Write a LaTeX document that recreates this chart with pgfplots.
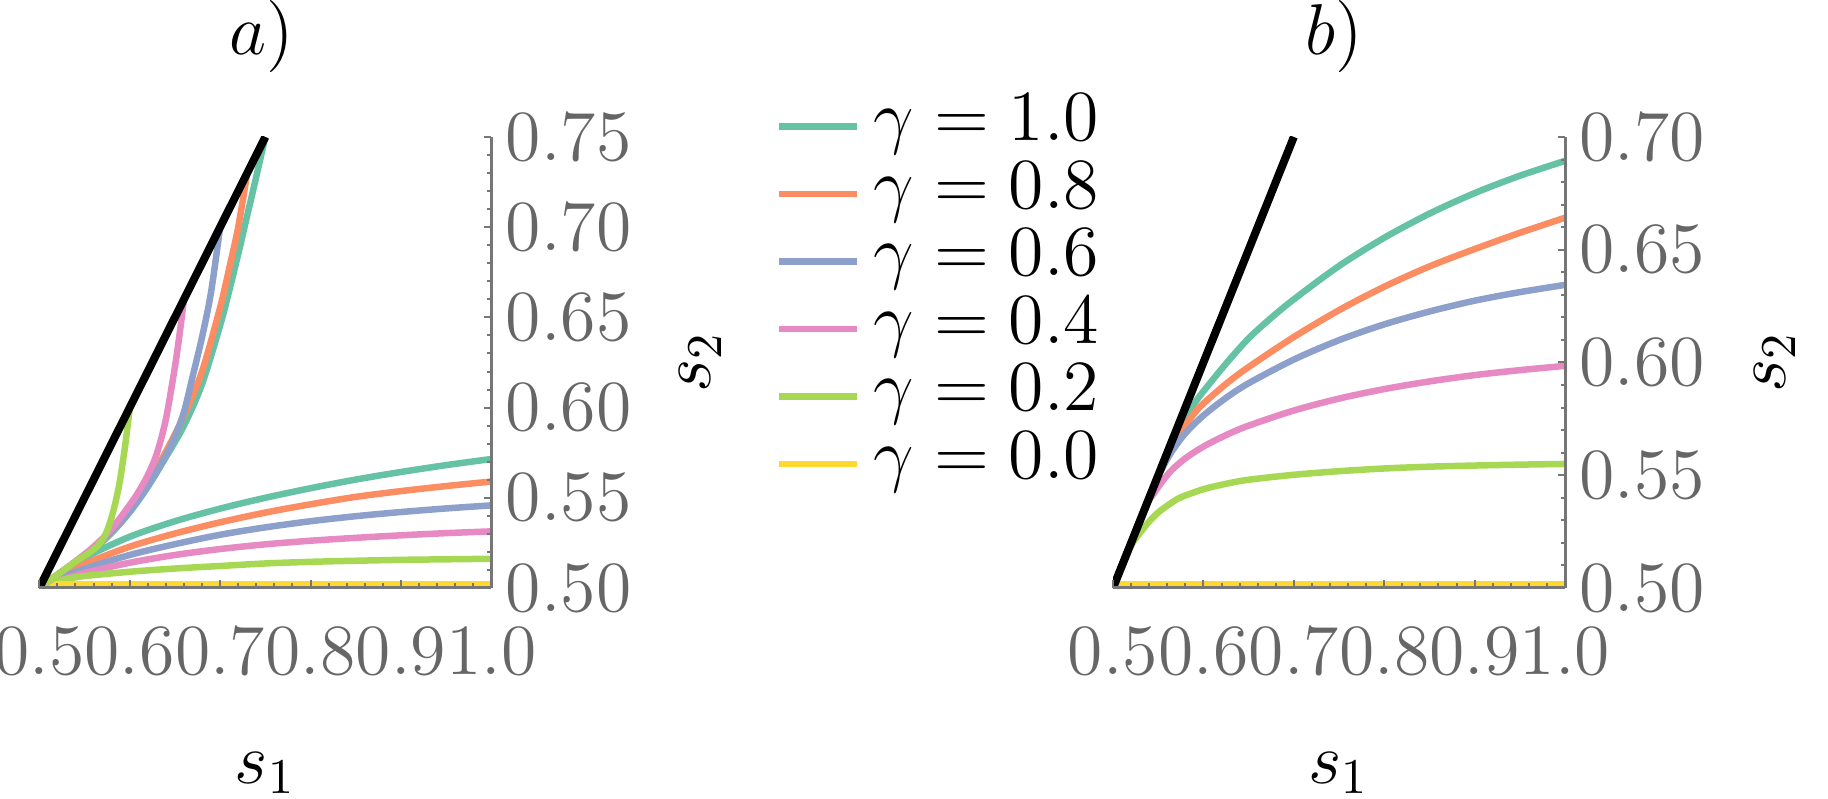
\documentclass[border=0pt]{standalone}
\usepackage{pgfplots}
\pgfplotsset{compat=1.18}
\definecolor{cA}{HTML}{66C2A5}
\definecolor{cB}{HTML}{FC8D62}
\definecolor{cC}{HTML}{8DA0CB}
\definecolor{cD}{HTML}{E78AC3}
\definecolor{cE}{HTML}{A6D854}
\definecolor{cF}{HTML}{FFD92F}
\definecolor{axgray}{RGB}{118,118,118}
\definecolor{lblgray}{RGB}{102,102,102}
\pgfplotsset{
  myax/.style={
    scale only axis, width=90.4pt, height=90.2pt, anchor=south west,
    xmin=0.5, xmax=1.0, ymin=0.5,
    axis x line*=bottom, axis y line*=right,
    axis line style={-, draw=axgray, line width=0.6pt},
    axis on top,
    tick align=inside, major tick length=1.5pt, minor tick length=0.9pt,
    every tick/.style={axgray, line width=0.4pt},
    xtick={0.5,0.6,0.7,0.8,0.9,1.0}, minor x tick num=4, minor y tick num=4,
    ticklabel style={text=lblgray},
    xticklabel style={font=\fontsize{13.5}{16}\selectfont, /pgf/number format/.cd, fixed, fixed zerofill, precision=1, /tikz/.cd, yshift=-4.4pt},
    yticklabel style={font=\fontsize{13.6}{16}\selectfont, /pgf/number format/.cd, fixed, fixed zerofill, precision=2, /tikz/.cd, xshift=-0.6pt},
    title style={anchor=center, yshift=-6pt, font=\fontsize{14.4}{17}\selectfont},
    xlabel style={at={(axis description cs:0.5,-0.41)}, anchor=center, font=\fontsize{14.4}{17}\selectfont},
    ylabel style={anchor=center, font=\fontsize{14.4}{17}\selectfont},
  },
  cl/.style={line width=1.3pt, #1, smooth},
}
\begin{document}
\begin{tikzpicture}
\useasboundingbox (0,0) rectangle (365.6pt,159.8pt);
% ---------------- a) ----------------
\begin{axis}[myax, at={(7.86pt,42.2pt)}, ymax=0.75,
  ytick={0.5,0.55,0.6,0.65,0.7,0.75},
  title={$a)$}, title style={at={(axis description cs:0.493,1.222)}},
  xlabel={$s_1$}, ylabel={$s_2$},
  ylabel style={at={(axis description cs:1.4624,0.501)}},
  legend cell align=left,
  legend image code/.code={\draw[#1, line width=1.3pt] (0pt,0pt) -- (15.6pt,0pt);},
  legend style={at={(axis description cs:1.630,1.0976)}, anchor=north west,
    draw=none, fill=none, inner sep=0pt, outer sep=0pt, row sep=0pt, column sep=2.6pt,
    font=\fontsize{14.4}{17}\selectfont,
    nodes={inner sep=0pt, text height=9.6pt, text depth=3.9pt}},
]
% lower branches
\addplot[cl=cA] coordinates {(0.5,0.5)(0.52,0.5072)(0.55,0.5168)(0.6,0.5284)(0.65,0.537)(0.7,0.544)(0.75,0.55)(0.8,0.5553)(0.85,0.5601)(0.9,0.5643)(0.95,0.5681)(1.0,0.5715)};
\addlegendentry{$\gamma = 1.0$}
\addplot[cl=cB] coordinates {(0.5,0.5)(0.52,0.5058)(0.55,0.5133)(0.6,0.5229)(0.65,0.5302)(0.7,0.5364)(0.75,0.5418)(0.8,0.5464)(0.85,0.5505)(0.9,0.5537)(0.95,0.5565)(1.0,0.559)};
\addlegendentry{$\gamma = 0.8$}
\addplot[cl=cC] coordinates {(0.5,0.5)(0.52,0.5047)(0.55,0.5106)(0.6,0.5183)(0.65,0.5243)(0.7,0.5295)(0.75,0.5336)(0.8,0.537)(0.85,0.5398)(0.9,0.5421)(0.95,0.5441)(1.0,0.5458)};
\addlegendentry{$\gamma = 0.6$}
\addplot[cl=cD] coordinates {(0.5,0.5)(0.52,0.5037)(0.55,0.5083)(0.6,0.514)(0.65,0.5183)(0.7,0.5216)(0.75,0.5242)(0.8,0.5262)(0.85,0.5278)(0.9,0.5292)(0.95,0.5304)(1.0,0.5314)};
\addlegendentry{$\gamma = 0.4$}
\addplot[cl=cE] coordinates {(0.5,0.5)(0.51,0.5022)(0.52,0.5038)(0.545,0.5063)(0.6,0.509)(0.65,0.5108)(0.7,0.5122)(0.75,0.5136)(0.8,0.5145)(0.85,0.5151)(0.9,0.5156)(0.95,0.5159)(1.0,0.5162)};
\addlegendentry{$\gamma = 0.2$}
\addplot[cl=cF, line width=2.6pt] coordinates {(0.5,0.5)(1.0,0.5)};
\addlegendentry{$\gamma = 0.0$}
% upper branches
\addplot[cl=cA, forget plot] coordinates {(0.5,0.5)(0.52,0.5073)(0.54,0.5143)(0.56,0.5215)(0.58,0.5305)(0.6,0.542)(0.62,0.556)(0.64,0.5725)(0.66,0.59)(0.68,0.613)(0.7,0.6455)(0.71,0.6645)(0.72,0.685)(0.73,0.7065)(0.74,0.728)(0.75,0.75)};
\addplot[cl=cB, forget plot] coordinates {(0.5,0.5)(0.52,0.5073)(0.54,0.5143)(0.56,0.5218)(0.58,0.531)(0.6,0.543)(0.62,0.558)(0.64,0.5755)(0.66,0.5955)(0.68,0.62)(0.7,0.6555)(0.71,0.677)(0.72,0.7)(0.73,0.73)};
\addplot[cl=cC, forget plot] coordinates {(0.5,0.5)(0.52,0.5073)(0.54,0.5145)(0.56,0.5222)(0.58,0.5315)(0.6,0.5425)(0.62,0.5565)(0.64,0.5735)(0.65,0.584)(0.66,0.5975)(0.67,0.618)(0.68,0.639)(0.69,0.664)(0.70,0.70)};
\addplot[cl=cD, forget plot] coordinates {(0.5,0.5)(0.52,0.5073)(0.54,0.5148)(0.56,0.5228)(0.58,0.5328)(0.6,0.546)(0.61,0.5535)(0.62,0.5625)(0.63,0.5745)(0.64,0.5935)(0.65,0.6225)(0.655,0.64)(0.66,0.66)};
\addplot[cl=cE, forget plot] coordinates {(0.5,0.5)(0.52,0.5073)(0.54,0.5145)(0.555,0.5195)(0.565,0.5235)(0.573,0.5295)(0.579,0.5375)(0.5845,0.548)(0.5893,0.5599)(0.5948,0.5783)(0.5985,0.5931)(0.6003,0.6003)};
\addplot[black, line width=1.6pt, forget plot] coordinates {(0.5,0.5)(0.75,0.75)};
\end{axis}
% ---------------- b) ----------------
\begin{axis}[myax, at={(222.6pt,42.2pt)}, ymax=0.70,
  ytick={0.5,0.55,0.6,0.65,0.7},
  title={$b)$}, title style={at={(axis description cs:0.49,1.222)}},
  xlabel={$s_1$}, ylabel={$s_2$},
  ylabel style={at={(axis description cs:1.4646,0.501)}},
]
\addplot[cl=cA] coordinates {(0.5,0.5)(0.565,0.565)(0.575,0.5727)(0.59,0.5818)(0.6,0.5872)(0.625,0.5995)(0.65,0.6107)(0.675,0.6198)(0.7,0.628)(0.75,0.6428)(0.8,0.6553)(0.85,0.666)(0.9,0.6751)(0.95,0.6828)(1.0,0.6894)};
\addplot[cl=cB] coordinates {(0.5,0.5)(0.555,0.555)(0.565,0.5633)(0.575,0.5695)(0.59,0.5775)(0.6,0.5818)(0.625,0.5905)(0.65,0.598)(0.7,0.6113)(0.75,0.6232)(0.8,0.6336)(0.85,0.6426)(0.9,0.6503)(0.95,0.6575)(1.0,0.6642)};
\addplot[cl=cC] coordinates {(0.5,0.5)(0.545,0.545)(0.555,0.5535)(0.565,0.5605)(0.58,0.5686)(0.6,0.5765)(0.625,0.5843)(0.65,0.5908)(0.7,0.6013)(0.75,0.6099)(0.8,0.6169)(0.85,0.6226)(0.9,0.6274)(0.95,0.6312)(1.0,0.6344)};
\addplot[cl=cD] coordinates {(0.5,0.5)(0.535,0.535)(0.545,0.5418)(0.555,0.5475)(0.565,0.5523)(0.58,0.5575)(0.6,0.5627)(0.625,0.5678)(0.65,0.572)(0.7,0.5787)(0.75,0.584)(0.8,0.5882)(0.85,0.5916)(0.9,0.5944)(0.95,0.5966)(1.0,0.5985)};
\addplot[cl=cE] coordinates {(0.5,0.5)(0.515,0.515)(0.5225,0.5205)(0.53,0.5245)(0.54,0.5295)(0.55,0.5335)(0.5625,0.5372)(0.575,0.5402)(0.6,0.5438)(0.625,0.5462)(0.65,0.548)(0.7,0.5502)(0.75,0.5518)(0.8,0.553)(0.85,0.5538)(0.9,0.5543)(0.95,0.5547)(1.0,0.555)};
\addplot[cl=cF, line width=2.6pt] coordinates {(0.5,0.5)(1.0,0.5)};
\addplot[black, line width=1.6pt] coordinates {(0.5,0.5)(0.70,0.70)};
\end{axis}
\end{tikzpicture}
\end{document}
